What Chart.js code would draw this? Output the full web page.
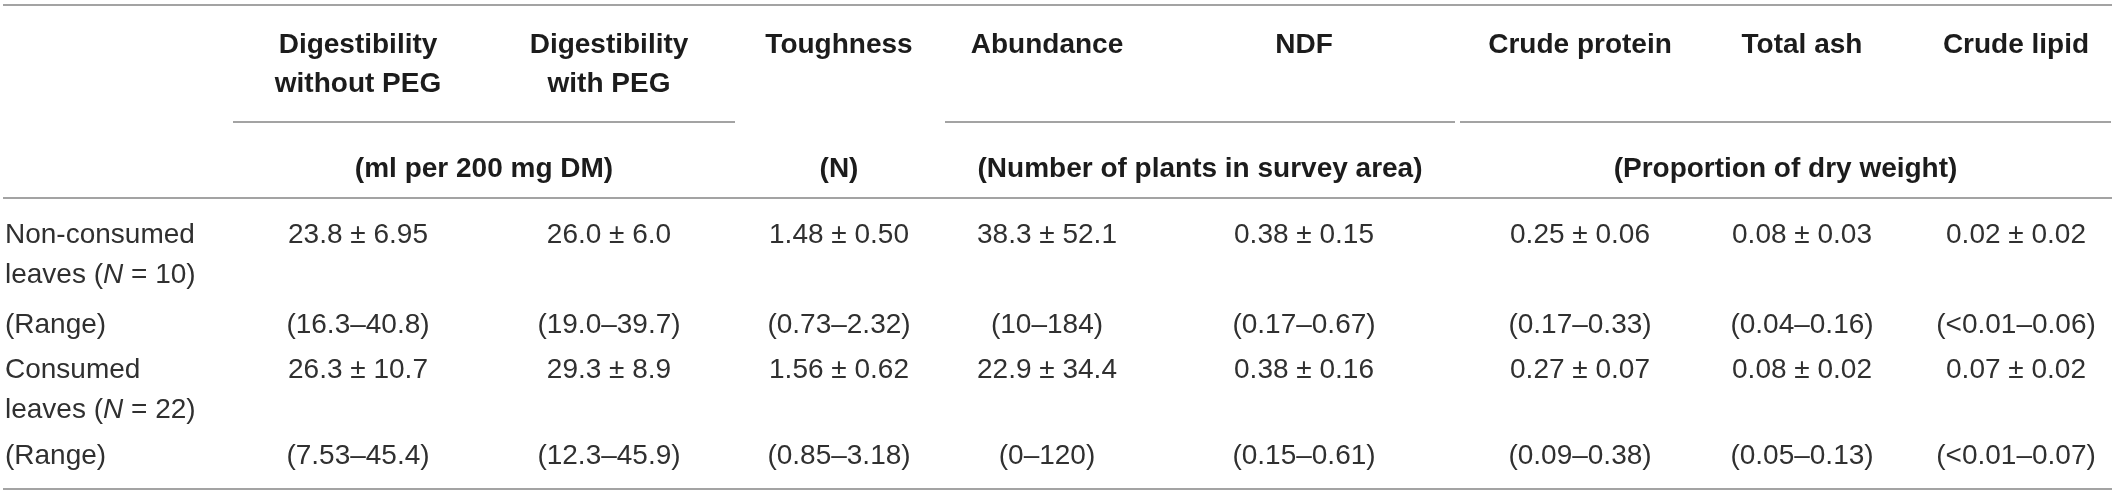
<!DOCTYPE html>
<html><head><meta charset="utf-8">
<script src="https://cdn.jsdelivr.net/npm/chart.js@4/dist/chart.umd.min.js"></script>
<style>html,body{margin:0;padding:0;background:#fff;}canvas{display:block}</style>
</head><body>
<canvas id="c" width="2117" height="496"></canvas>
<script>
// ---------- data ----------
const columnHeaders = [['Digestibility','without PEG'],['Digestibility','with PEG'],['Toughness'],['Abundance'],['NDF'],['Crude protein'],['Total ash'],['Crude lipid']];
const unitLabels = ['(ml per 200 mg DM)','(N)','(Number of plants in survey area)','(Proportion of dry weight)'];
const unitSpans = [[0,1],[2,2],[3,4],[5,7]];
const rowLabels = [['Non-consumed','leaves (*N* = 10)'],['(Range)'],['Consumed','leaves (*N* = 22)'],['(Range)']];
const nonConsumedMean = ['23.8','26.0','1.48','38.3','0.38','0.25','0.08','0.02'];
const nonConsumedSD = ['6.95','6.0','0.50','52.1','0.15','0.06','0.03','0.02'];
const nonConsumedRange = ['16.3–40.8','19.0–39.7','0.73–2.32','10–184','0.17–0.67','0.17–0.33','0.04–0.16','<0.01–0.06'];
const consumedMean = ['26.3','29.3','1.56','22.9','0.38','0.27','0.08','0.07'];
const consumedSD = ['10.7','8.9','0.62','34.4','0.16','0.07','0.02','0.02'];
const consumedRange = ['7.53–45.4','12.3–45.9','0.85–3.18','0–120','0.15–0.61','0.09–0.38','0.05–0.13','<0.01–0.07'];

// ---------- layout (positions / styles) ----------
const W = 2117, H = 496;
const colX = [358, 609, 839, 1047, 1304, 1580, 1802, 2016];
const labelX = 5;
const headerY = 43, headerLineGap = 39, unitY = 167;
const bodyY = [233, 323, 368, 454];
const wrapGap = 40;
const unitSegs = [[233,735], null, [945,1455], [1460,2111]];
const fullRules = [5, 198, 489];
const ruleLeft = 3, ruleRight = 2112, midRuleY = 122;
const bodyFont = '28px "Liberation Sans", Arial, sans-serif';
const headFont = 'bold 28px "Liberation Sans", Arial, sans-serif';
const bodyColor = '#303030', headColor = '#1c1c1c', ruleColor = '#a3a3a3';
const capShift = 10;

// ---------- build datasets ----------
const datasets = [];
function ruleDs(x0, x1, y) {
  return { type: 'line', data: [{x: x0, y}, {x: x1, y}], borderColor: ruleColor, borderWidth: 2,
           pointRadius: 0, fill: false, tension: 0 };
}
fullRules.forEach(y => datasets.push(ruleDs(ruleLeft, ruleRight, y)));
unitSegs.forEach(s => { if (s) datasets.push(ruleDs(s[0], s[1], midRuleY)); });

function textDs(points, texts, font, color, align) {
  return { type: 'scatter', data: points, cellText: texts, cellFont: font, cellColor: color, cellAlign: align,
           pointRadius: 0, showLine: false };
}
// column headers
datasets.push(textDs(colX.map(x => ({x, y: headerY})), columnHeaders, headFont, headColor, 'center'));
// units
const unitX = unitSpans.map((sp, i) => unitSegs[i] ? (unitSegs[i][0] + unitSegs[i][1]) / 2 : (colX[sp[0]] + colX[sp[1]]) / 2);
datasets.push(textDs(unitX.map(x => ({x, y: unitY})), unitLabels.map(t => [t]), headFont, headColor, 'center'));
// row labels
datasets.push(textDs(bodyY.map(y => ({x: labelX, y})), rowLabels, bodyFont, bodyColor, 'left'));
// body rows
const bodyRows = [
  nonConsumedMean.map((m, i) => m + ' ± ' + nonConsumedSD[i]),
  nonConsumedRange.map(r => '(' + r + ')'),
  consumedMean.map((m, i) => m + ' ± ' + consumedSD[i]),
  consumedRange.map(r => '(' + r + ')')
];
bodyRows.forEach((row, r) => datasets.push(textDs(colX.map(x => ({x, y: bodyY[r]})), row.map(t => [t]), bodyFont, bodyColor, 'center')));

// ---------- text plugin ----------
function drawRich(ctx, str, x, y, font, align) {
  const parts = str.split('*');
  const fonts = parts.map((p, i) => i % 2 ? font.replace(/^(bold )?/, 'italic $1') : font);
  let w = 0;
  parts.forEach((p, i) => { ctx.font = fonts[i]; w += ctx.measureText(p).width; });
  let cx = align === 'center' ? x - w / 2 : x;
  parts.forEach((p, i) => { ctx.font = fonts[i]; ctx.fillText(p, cx, y); cx += ctx.measureText(p).width; });
}
const tablePlugin = {
  id: 'tableText',
  afterDatasetsDraw(chart) {
    const ctx = chart.ctx;
    ctx.save();
    ctx.textBaseline = 'alphabetic';
    ctx.textAlign = 'left';
    chart.data.datasets.forEach((ds, di) => {
      if (!ds.cellText) return;
      const meta = chart.getDatasetMeta(di);
      ctx.fillStyle = ds.cellColor;
      meta.data.forEach((el, i) => {
        const lines = ds.cellText[i];
        const gap = ds.cellFont === headFont ? headerLineGap : wrapGap;
        lines.forEach((ln, k) => drawRich(ctx, ln, el.x, el.y + capShift + k * gap, ds.cellFont, ds.cellAlign));
      });
    });
    ctx.restore();
  }
};
const bgPlugin = {
  id: 'bg',
  beforeDraw(chart) { const c = chart.ctx; c.save(); c.fillStyle = '#fff'; c.fillRect(0, 0, chart.width, chart.height); c.restore(); }
};

new Chart(document.getElementById('c'), {
  type: 'scatter',
  data: { datasets },
  options: {
    responsive: false, animation: false, devicePixelRatio: 1,
    layout: { padding: 0 },
    plugins: { legend: { display: false }, tooltip: { enabled: false }, title: { display: false } },
    scales: {
      x: { type: 'linear', min: 0, max: W, display: false },
      y: { type: 'linear', min: 0, max: H, reverse: true, display: false }
    },
    elements: { line: { borderCapStyle: 'butt' } }
  },
  plugins: [bgPlugin, tablePlugin]
});
</script>
</body></html>
